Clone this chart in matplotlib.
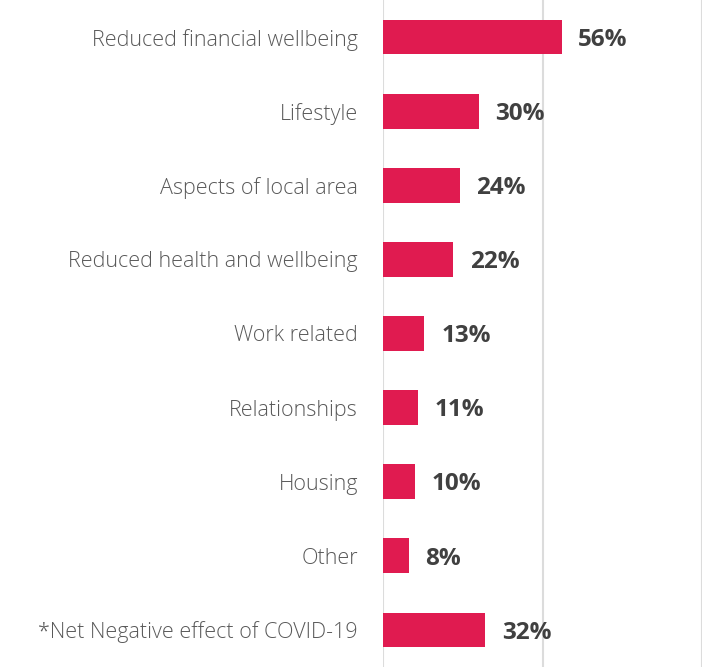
import matplotlib
import matplotlib.pyplot as plt

matplotlib.use("Agg")

categories = [
    "Reduced financial wellbeing",
    "Lifestyle",
    "Aspects of local area",
    "Reduced health and wellbeing",
    "Work related",
    "Relationships",
    "Housing",
    "Other",
    "*Net Negative effect of COVID-19",
]
values = [56, 30, 24, 22, 13, 11, 10, 8, 32]

BAR_COLOR = "#E01B50"
GRID_COLOR = "#DCDCDC"

fig = plt.figure(figsize=(7.05, 6.71), dpi=100)
ax = fig.add_axes([383 / 705, 4 / 671, 319 / 705, 667 / 671])

ypos = list(range(len(categories)))
bars = ax.barh(ypos, values, height=0.47, color=BAR_COLOR, zorder=3)

for bar, v in zip(bars, values):
    ax.annotate(f"{v}%", xy=(bar.get_width(), bar.get_y() + bar.get_height() / 2),
                xytext=(12, -2), textcoords="offset points", ha="left", va="center",
                fontsize=17.5, fontweight="bold", color="#404040", family="Open Sans")

ax.set_xlim(0, 100)
ax.set_ylim(len(categories) - 0.5, -0.5)
ax.set_yticks(ypos)
ax.set_yticklabels(categories, family="Open Sans", fontsize=15.5, color="#595959",
                   fontweight="light")
ax.tick_params(axis="y", length=0, pad=18)
ax.set_xticks([0, 50, 100])
ax.tick_params(axis="x", length=0, labelbottom=False)
ax.grid(axis="x", color=GRID_COLOR, linewidth=1.5, zorder=0)
for s in ax.spines.values():
    s.set_visible(False)

fig.savefig("out.png", dpi=100)
